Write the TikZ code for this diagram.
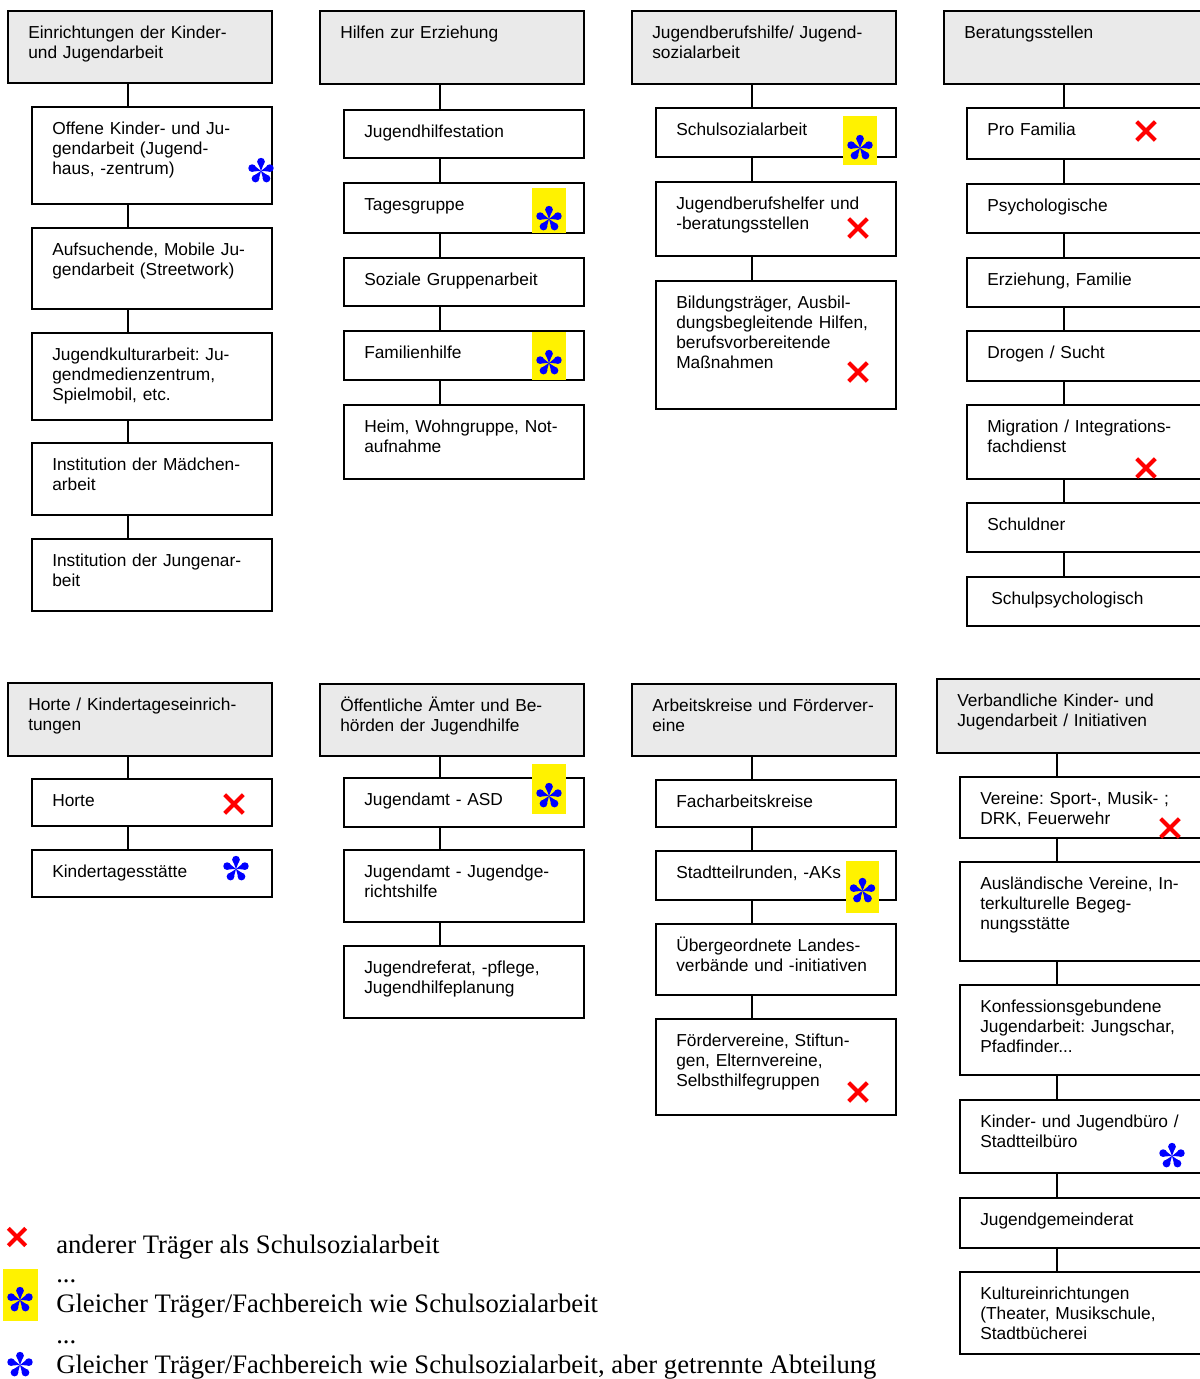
\documentclass[tikz,border=0pt]{standalone}
\usepackage{fontspec}
\setmainfont{Liberation Serif}
\setsansfont{Liberation Sans}
\usepackage{tikz}
\usetikzlibrary{positioning, fit, shapes.misc}

\definecolor{kopfgrau}{RGB}{234,234,234}
\frenchspacing

\tikzset{
  box/.style={draw, line width=1.4pt, inner sep=0pt, outer sep=0pt},
  kopf/.style={box, fill=kopfgrau},
  txt/.style={anchor=base west, align=left, text width=220pt, inner sep=0pt, xshift=15pt, yshift=-20.25pt,
    font=\sffamily\fontsize{13}{15}\selectfont},
  verbinder/.style={line width=1.4pt},
  kreuz/.style={cross out, draw=red, line width=3pt, minimum size=11pt, inner sep=0pt},
  gelb/.style={fill=yellow, inner sep=0pt},
  blume/.style={circle, minimum size=21pt, inner sep=0pt, path picture={
      \foreach \w in {18,90,162,234,306} {
        \fill[blue] ([shift={(\w:7pt)}]path picture bounding box.center) circle (2.9pt);
        \fill[blue] (path picture bounding box.center) -- ([shift={(\w+21:7pt)}]path picture bounding box.center)
          -- ([shift={(\w-21:7pt)}]path picture bounding box.center) -- cycle;
      }}},
  legende/.style={anchor=base west, inner sep=0pt, font=\fontsize{20}{24}\selectfont}
}

\begin{document}
\begin{tikzpicture}[x=0.75pt, y=-0.75pt]
        \useasboundingbox (0,0) rectangle (1200,1379);
        \clip (0,0) rectangle (1200,1379);

        % obere Reihe
        \node[kopf, fit={(8,11) (272,83)}, label={[txt]north west:Einrichtungen der Kinder-\\und Jugendarbeit}] (ek) {};
        \node[box, fit={(32,107) (272,204)}, label={[txt]north west:Offene Kinder- und Ju-\\gendarbeit (Jugend-\\haus, -zentrum)}] (ek1) {};
        \node[box, fit={(32,228) (272,309)}, label={[txt]north west:Aufsuchende, Mobile Ju-\\gendarbeit (Streetwork)}] (ek2) {};
        \node[box, fit={(32,333) (272,420)}, label={[txt]north west:Jugendkulturarbeit: Ju-\\gendmedienzentrum,\\Spielmobil, etc.}] (ek3) {};
        \node[box, fit={(32,443) (272,515)}, label={[txt]north west:Institution der Mädchen-\\arbeit}] (ek4) {};
        \node[box, fit={(32,539) (272,611)}, label={[txt]north west:Institution der Jungenar-\\beit}] (ek5) {};

        \node[kopf, fit={(320,11) (584,84)}, label={[txt]north west:Hilfen zur Erziehung}] (hz) {};
        \node[box, fit={(344,110) (584,158)}, label={[txt]north west:Jugendhilfestation}] (hz1) {};
        \node[box, fit={(344,183) (584,233)}, label={[txt]north west:Tagesgruppe}] (hz2) {};
        \node[box, fit={(344,258) (584,306)}, label={[txt]north west:Soziale Gruppenarbeit}] (hz3) {};
        \node[box, fit={(344,331) (584,380)}, label={[txt]north west:Familienhilfe}] (hz4) {};
        \node[box, fit={(344,405) (584,479)}, label={[txt]north west:Heim, Wohngruppe, Not-\\aufnahme}] (hz5) {};

        \node[kopf, fit={(632,11) (896,84)}, label={[txt]north west:Jugendberufshilfe/ Jugend-\\sozialarbeit}] (jb) {};
        \node[box, fit={(656,108) (896,157)}, label={[txt]north west:Schulsozialarbeit}] (jb1) {};
        \node[box, fit={(656,182) (896,256)}, label={[txt]north west:Jugendberufshelfer und\\-beratungsstellen}] (jb2) {};
        \node[box, fit={(656,281) (896,409)}, label={[txt]north west:Bildungsträger, Ausbil-\\dungsbegleitende Hilfen,\\berufsvorbereitende\\Maßnahmen}] (jb3) {};

        \node[kopf, fit={(944,11) (1215,84)}, label={[txt]north west:Beratungsstellen}] (bs) {};
        \node[box, fit={(967,108) (1215,159)}, label={[txt]north west:Pro Familia}] (bs1) {};
        \node[box, fit={(967,184) (1215,233)}, label={[txt]north west:Psychologische}] (bs2) {};
        \node[box, fit={(967,258) (1215,307)}, label={[txt]north west:Erziehung, Familie}] (bs3) {};
        \node[box, fit={(967,331) (1215,381)}, label={[txt]north west:Drogen / Sucht}] (bs4) {};
        \node[box, fit={(967,405) (1215,479)}, label={[txt]north west:Migration / Integrations-\\fachdienst}] (bs5) {};
        \node[box, fit={(967,503) (1215,552)}, label={[txt]north west:Schuldner}] (bs6) {};
        \node[box, fit={(967,577) (1215,626)}, label={[txt, xshift=3pt]north west:Schulpsychologisch}] (bs7) {};

        % untere Reihe
        \node[kopf, fit={(8,683) (272,756)}, label={[txt]north west:Horte / Kindertageseinrich-\\tungen}] (hk) {};
        \node[box, fit={(32,779) (272,826)}, label={[txt]north west:Horte}] (hk1) {};
        \node[box, fit={(32,850) (272,897)}, label={[txt]north west:Kindertagesstätte}] (hk2) {};

        \node[kopf, fit={(320,684) (584,756)}, label={[txt]north west:Öffentliche Ämter und Be-\\hörden der Jugendhilfe}] (oa) {};
        \node[box, fit={(344,778) (584,827)}, label={[txt]north west:Jugendamt - ASD}] (oa1) {};
        \node[box, fit={(344,850) (584,922)}, label={[txt]north west:Jugendamt - Jugendge-\\richtshilfe}] (oa2) {};
        \node[box, fit={(344,946) (584,1018)}, label={[txt]north west:Jugendreferat, -pflege,\\Jugendhilfeplanung}] (oa3) {};

        \node[kopf, fit={(632,684) (896,756)}, label={[txt]north west:Arbeitskreise und Förderver-\\eine}] (af) {};
        \node[box, fit={(656,780) (896,827)}, label={[txt]north west:Facharbeitskreise}] (af1) {};
        \node[box, fit={(656,851) (896,900)}, label={[txt]north west:Stadtteilrunden, -AKs}] (af2) {};
        \node[box, fit={(656,924) (896,995)}, label={[txt]north west:Übergeordnete Landes-\\verbände und -initiativen}] (af3) {};
        \node[box, fit={(656,1019) (896,1115)}, label={[txt]north west:Fördervereine, Stiftun-\\gen, Elternvereine,\\Selbsthilfegruppen}] (af4) {};

        \node[kopf, fit={(937,679) (1215,753)}, label={[txt]north west:Verbandliche Kinder- und\\Jugendarbeit / Initiativen}] (vk) {};
        \node[box, fit={(960,777) (1215,838)}, label={[txt]north west:Vereine: Sport-, Musik- ;\\DRK, Feuerwehr}] (vk1) {};
        \node[box, fit={(960,862) (1215,961)}, label={[txt]north west:Ausländische Vereine, In-\\terkulturelle Begeg-\\nungsstätte}] (vk2) {};
        \node[box, fit={(960,985) (1215,1075)}, label={[txt]north west:Konfessionsgebundene\\Jugendarbeit: Jungschar,\\Pfadfinder...}] (vk3) {};
        \node[box, fit={(960,1100) (1215,1173)}, label={[txt]north west:Kinder- und Jugendbüro /\\Stadtteilbüro}] (vk4) {};
        \node[box, fit={(960,1198) (1215,1248)}, label={[txt]north west:Jugendgemeinderat}] (vk5) {};
        \node[box, fit={(960,1272) (1215,1354)}, label={[txt]north west:Kultureinrichtungen\\(Theater, Musikschule,\\Stadtbücherei}] (vk6) {};

        % Verbindungslinien
        \coordinate (xek) at (128,0);
        \coordinate (xhz) at (440,0);
        \coordinate (xjb) at (752,0);
        \coordinate (xbs) at (1064,0);
        \coordinate (xvk) at (1057,0);

        \foreach \i/\j/\x in {ek/ek1/xek, ek1/ek2/xek, ek2/ek3/xek, ek3/ek4/xek, ek4/ek5/xek,
                hz/hz1/xhz, hz1/hz2/xhz, hz2/hz3/xhz, hz3/hz4/xhz, hz4/hz5/xhz,
                jb/jb1/xjb, jb1/jb2/xjb, jb2/jb3/xjb,
                bs/bs1/xbs, bs1/bs2/xbs, bs2/bs3/xbs, bs3/bs4/xbs, bs4/bs5/xbs, bs5/bs6/xbs, bs6/bs7/xbs,
                hk/hk1/xek, hk1/hk2/xek,
                oa/oa1/xhz, oa1/oa2/xhz, oa2/oa3/xhz,
                af/af1/xjb, af1/af2/xjb, af2/af3/xjb, af3/af4/xjb,
                vk/vk1/xvk, vk1/vk2/xvk, vk2/vk3/xvk, vk3/vk4/xvk, vk4/vk5/xvk, vk5/vk6/xvk} {
                \draw[verbinder] (\i.south -| \x) -- (\j.north -| \x);
        }

        % gelbe Markierungen
        \node[gelb, fit={(532,188) (566,233)}] (g1) {};
        \node[gelb, fit={(532,332) (566,380)}] (g2) {};
        \node[gelb, fit={(843,116) (877,165)}] (g3) {};
        \node[gelb, fit={(532,764) (566,814)}] (g4) {};
        \node[gelb, fit={(846,861) (879,913)}] (g5) {};

        % Sterne
        \node[blume] (s1) at (g1.center |- 0,219) {};
        \node[blume] (s2) at (g2.center |- 0,363) {};
        \node[blume] (s3) at (g3.center |- 0,148) {};
        \node[blume] (s4) at (g4.center |- 0,796) {};
        \node[blume] (s5) at (g5.center |- 0,891) {};
        \node[blume] (s6) at (261,171) {};
        \node[blume] (s7) at (236,869) {};
        \node[blume] (s8) at (1172,1156) {};

        % Kreuze
        \node[kreuz] (k1) at (1146,131) {};
        \node[kreuz] (k2) at (858,228) {};
        \node[kreuz] (k3) at (858,372) {};
        \node[kreuz] (k4) at (1146,468) {};
        \node[kreuz] (k5) at (234,804) {};
        \node[kreuz] (k6) at (858,1092) {};
        \node[kreuz] (k7) at (1170,828) {};

        % Legende
        \node[kreuz, minimum size=10pt] (lk) at (17,1237) {};
        \node[legende] (l1) at (56,1253) {anderer Träger als Schulsozialarbeit};
        \node[legende] (l2) at (56,1282) {...};
        \node[gelb, fit={(3,1269) (38,1321)}] (lg) {};
        \node[blume] (ls1) at (20,1300) {};
        \node[legende] (l3) at (56,1312) {Gleicher Träger/Fachbereich wie Schulsozialarbeit};
        \node[legende] (l4) at (56,1343) {...};
        \node[blume] (ls2) at (20,1365) {};
        \node[legende] (l5) at (56,1373) {Gleicher Träger/Fachbereich wie Schulsozialarbeit, aber getrennte Abteilung};
\end{tikzpicture}
\end{document}
